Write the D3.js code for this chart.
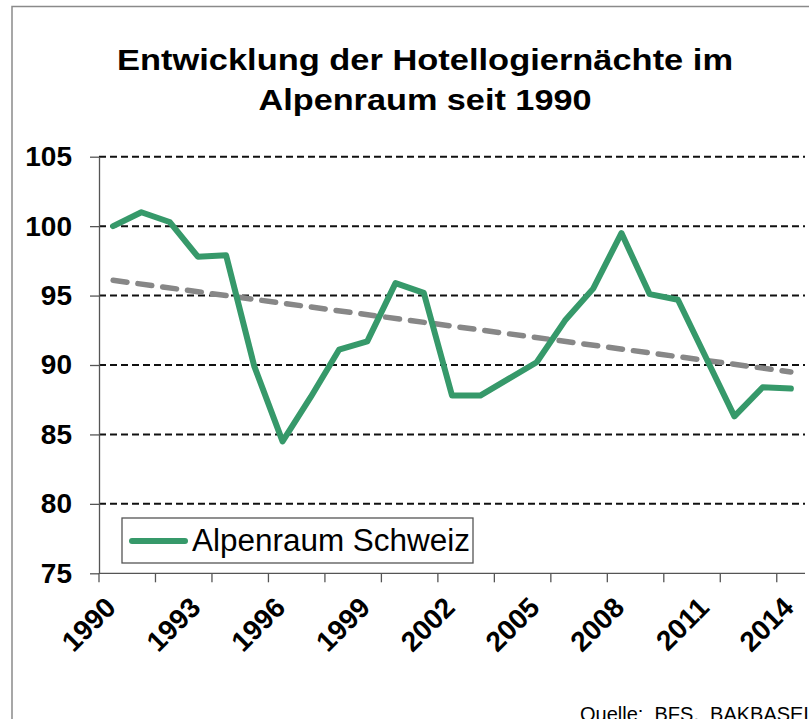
<!DOCTYPE html>
<html>
<head>
<meta charset="utf-8">
<script src="https://cdn.jsdelivr.net/npm/d3@7"></script>
<style>
    body { margin: 0; background: #fff; }
    svg { display: block; font-family: 'Liberation Sans', Arial, sans-serif; }
</style>
</head>
<body>
<svg></svg>
<script>
// Hotellogiernächte, Index 1990 = 100
const years = ['1990','1991','1992','1993','1994','1995','1996','1997','1998','1999','2000','2001','2002',
               '2003','2004','2005','2006','2007','2008','2009','2010','2011','2012','2013','2014'];
const alpenraum = [100.0, 101.0, 100.3, 97.8, 97.9, 89.9, 84.5, 87.7, 91.1, 91.7, 95.9, 95.2, 87.8,
                   87.8, 89.0, 90.2, 93.2, 95.5, 99.5, 95.1, 94.7, 90.5, 86.3, 88.4, 88.3];
// linear trend, start and end value
const trend = [{year: '1990', value: 96.1}, {year: '2014', value: 89.5}];
const yTicks = [75, 80, 85, 90, 95, 100, 105];
const xLabels = ['1990','1993','1996','1999','2002','2005','2008','2011','2014'];

const width = 809;
const height = 719;
const plot = {left: 99, right: 805, top: 156.7, bottom: 573.3};

let svg = d3.select('svg')
            .attr('width', width)
            .attr('height', height);

// outer frame (continues past the picture)
svg.append('rect')
    .attr('x', 12).attr('y', 6.5)
    .attr('width', 900).attr('height', 800)
    .attr('fill', 'none')
    .attr('stroke', '#8a8a8a')
    .attr('stroke-width', 1.5);

// title
const title = [
    {text: 'Entwicklung der Hotellogiernächte im', y: 70, len: 616},
    {text: 'Alpenraum seit 1990', y: 110, len: 333}
];
svg.selectAll('.title')
    .data(title)
    .enter()
        .append('text')
        .classed('title', true)
        .attr('x', 425)
        .attr('y', d => d.y)
        .attr('text-anchor', 'middle')
        .attr('font-size', 30)
        .attr('font-weight', 'bold')
        .attr('textLength', d => d.len)
        .attr('lengthAdjust', 'spacingAndGlyphs')
        .text(d => d.text);

// scales
let xScale = d3.scaleBand()
                .domain(years)
                .range([plot.left, plot.right])
                .padding(0);
const xMid = d => xScale(d) + xScale.bandwidth() / 2;

let yScale = d3.scaleLinear()
                .domain([75, 105])
                .range([plot.bottom, plot.top]);

// gridlines
svg.append('g')
    .selectAll('line')
    .data(yTicks.filter(t => t > 75))
    .enter()
        .append('line')
        .attr('x1', plot.left)
        .attr('x2', plot.right)
        .attr('y1', d => yScale(d))
        .attr('y2', d => yScale(d))
        .attr('stroke', '#111')
        .attr('stroke-width', 2)
        .attr('stroke-dasharray', '7,4');

// y axis
let yAxis = d3.axisLeft(yScale)
                .tickValues(yTicks)
                .tickSize(9)
                .tickSizeOuter(0)
                .tickPadding(18);
let gy = svg.append('g')
    .attr('transform', `translate(${plot.left},0)`)
    .call(yAxis);
gy.select('.domain').attr('stroke', '#555').attr('stroke-width', 1.3);
gy.selectAll('.tick line').attr('stroke', '#555').attr('stroke-width', 1.3);
gy.selectAll('.tick text')
    .attr('font-family', "'Liberation Sans', Arial, sans-serif")
    .attr('font-size', 28)
    .attr('font-weight', 'bold')
    .attr('fill', '#000');

// x axis: line, ticks every second category boundary, labels every third year
let gx = svg.append('g');
gx.append('line')
    .attr('x1', plot.left).attr('x2', plot.right)
    .attr('y1', plot.bottom).attr('y2', plot.bottom)
    .attr('stroke', '#555').attr('stroke-width', 1.3);
gx.selectAll('.xtick')
    .data(years.filter((d, i) => i % 2 === 0))
    .enter()
        .append('line')
        .classed('xtick', true)
        .attr('x1', d => xScale(d)).attr('x2', d => xScale(d))
        .attr('y1', plot.bottom).attr('y2', plot.bottom + 9)
        .attr('stroke', '#555').attr('stroke-width', 1.3);
gx.selectAll('.xlabel')
    .data(xLabels)
    .enter()
        .append('text')
        .classed('xlabel', true)
        .attr('transform', d => `translate(${xMid(d) + 4.5},${plot.bottom + 36}) rotate(-45)`)
        .attr('text-anchor', 'end')
        .attr('font-size', 28)
        .attr('font-weight', 'bold')
        .text(d => d);

// trend line
svg.append('path')
    .datum(trend)
    .attr('d', d3.line().x(d => xMid(d.year)).y(d => yScale(d.value)))
    .attr('fill', 'none')
    .attr('stroke', '#878787')
    .attr('stroke-width', 5.5)
    .attr('stroke-linecap', 'round')
    .attr('stroke-dasharray', '14,11');

// series line
svg.append('path')
    .datum(alpenraum)
    .attr('d', d3.line().x((d, i) => xMid(years[i])).y(d => yScale(d)))
    .attr('fill', 'none')
    .attr('stroke', '#36996a')
    .attr('stroke-width', 6)
    .attr('stroke-linejoin', 'round')
    .attr('stroke-linecap', 'round');

// legend
let legend = svg.append('g');
legend.append('rect')
    .attr('x', 122).attr('y', 518)
    .attr('width', 351).attr('height', 45)
    .attr('fill', '#fff')
    .attr('stroke', '#555')
    .attr('stroke-width', 1.3);
legend.append('line')
    .attr('x1', 132).attr('x2', 185)
    .attr('y1', 541).attr('y2', 541)
    .attr('stroke', '#36996a')
    .attr('stroke-width', 6)
    .attr('stroke-linecap', 'round');
legend.append('text')
    .attr('x', 192).attr('y', 551)
    .attr('font-size', 31)
    .attr('textLength', 278)
    .attr('lengthAdjust', 'spacingAndGlyphs')
    .text('Alpenraum Schweiz');

// source
svg.append('text')
    .attr('x', 580).attr('y', 721)
    .attr('font-size', 20)
    .attr('xml:space', 'preserve')
    .text('Quelle:  BFS,  BAKBASEL');
</script>
</body>
</html>
